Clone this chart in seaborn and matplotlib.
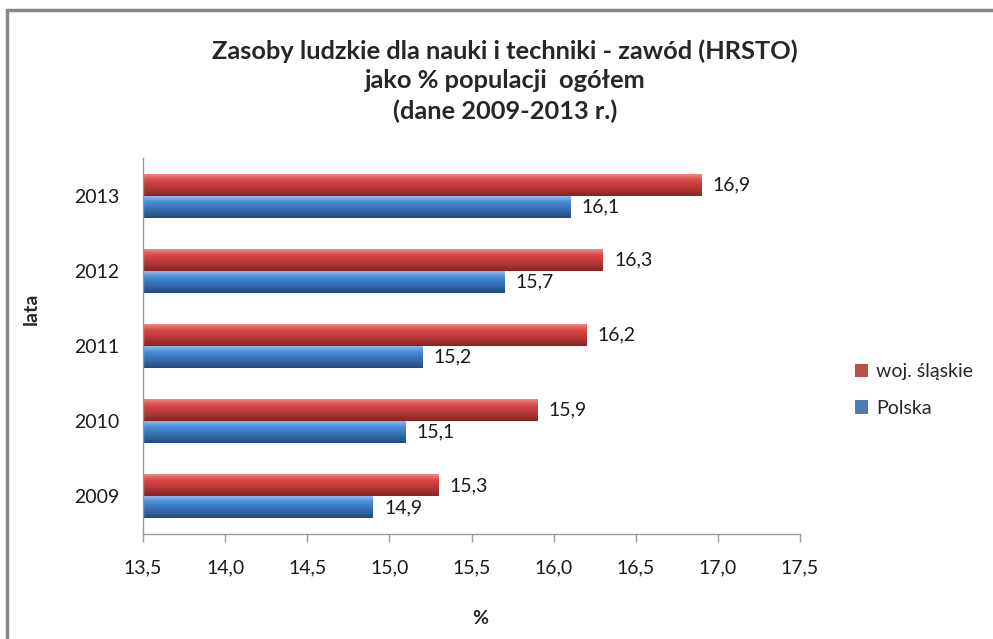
import numpy as np
import pandas as pd
import matplotlib
matplotlib.use("Agg")
import matplotlib.pyplot as plt
import seaborn as sns
from matplotlib.patches import Rectangle
from matplotlib.colors import LinearSegmentedColormap
from matplotlib.ticker import FuncFormatter

years = ["2013", "2012", "2011", "2010", "2009"]
slaskie = [16.9, 16.3, 16.2, 15.9, 15.3]
polska = [16.1, 15.7, 15.2, 15.1, 14.9]
series = ["woj. śląskie", "Polska"]
colors = ["#C9403E", "#3D78C6"]

# gradients to mimic the glossy Excel bars (top -> bottom)
shades = [
    ["#F48482", "#DC4C4A", "#C23D3B", "#A63330", "#7E2624"],
    ["#86BCF4", "#4E8FDA", "#3C76BF", "#31629F", "#24497A"],
]

df = pd.DataFrame({
    "rok": years * 2,
    "wartosc": slaskie + polska,
    "seria": [series[0]] * len(years) + [series[1]] * len(years),
})

sns.set_theme(style="white")
plt.rcParams["font.family"] = ["Lato", "DejaVu Sans"]

fig = plt.figure(figsize=(9.93, 6.39), dpi=100)
ax = fig.add_axes([143 / 993, 1 - 534 / 639, (800 - 143) / 993, (534 - 158) / 639])

sns.barplot(data=df, y="rok", x="wartosc", hue="seria", order=years,
            hue_order=series, palette=colors, orient="h", width=0.585,
            linewidth=0, ax=ax)

xmin, xmax = 13.5, 17.5
ax.set_xlim(xmin, xmax)
ylim = ax.get_ylim()
for cont, sh in zip(ax.containers, shades):
    cmap = LinearSegmentedColormap.from_list("g", sh)
    grad = np.linspace(0, 1, 64).reshape(-1, 1)
    for bar in cont:
        x0, y0 = bar.get_x(), bar.get_y()
        x1, y1 = x0 + bar.get_width(), y0 + bar.get_height()
        ax.imshow(grad, cmap=cmap, aspect="auto", origin="upper",
                  extent=[max(x0, xmin), x1, y1, y0], zorder=bar.get_zorder() + 0.1)
    ax.bar_label(cont, labels=[f"{v:.1f}".replace(".", ",") for v in cont.datavalues],
                 padding=8, fontsize=14, color="#1a1a1a")
ax.set_ylim(ylim)
ax.set_xlim(xmin, xmax)

ax.set_xticks([13.5, 14.0, 14.5, 15.0, 15.5, 16.0, 16.5, 17.0, 17.5])
ax.xaxis.set_major_formatter(FuncFormatter(lambda v, p: f"{v:.1f}".replace(".", ",")))
ax.tick_params(axis="x", bottom=True, length=6, width=1, color="#999999",
               labelsize=14, pad=12, labelcolor="#1a1a1a")
ax.tick_params(axis="y", left=False, labelsize=14, pad=11, labelcolor="#1a1a1a")

for s in ["top", "right"]:
    ax.spines[s].set_visible(False)
for s in ["left", "bottom"]:
    ax.spines[s].set_color("#999999")
    ax.spines[s].set_linewidth(1)

ax.set_xlabel("%", fontsize=14, fontweight="bold")
ax.xaxis.set_label_coords((480 - 143) / 657, -(610 - 534) / 376)
ax.set_ylabel("lata", fontsize=14, fontweight="bold")
ax.yaxis.set_label_coords((40 - 143) / 657, 1 - (309 - 158) / 376)

ax.legend(loc="center left", bbox_to_anchor=(837 / 993, 1 - 390 / 639),
          bbox_transform=fig.transFigure, frameon=False, fontsize=14,
          handlelength=0.7, handleheight=0.7, handletextpad=0.4, labelspacing=1.0)

fig.text(505 / 993, 1 - 81 / 639,
         "Zasoby ludzkie dla nauki i techniki - zawód (HRSTO)\njako % populacji  ogółem\n(dane 2009-2013 r.)",
         ha="center", va="center", fontsize=18.3, fontweight="bold", linespacing=1.35)

fig.patches.append(Rectangle((7 / 993, -0.1), 1.2, 1.1 - 10 / 639, transform=fig.transFigure,
                             fill=False, edgecolor="#888888", linewidth=2.5))

fig.savefig("out.png", dpi=100)
